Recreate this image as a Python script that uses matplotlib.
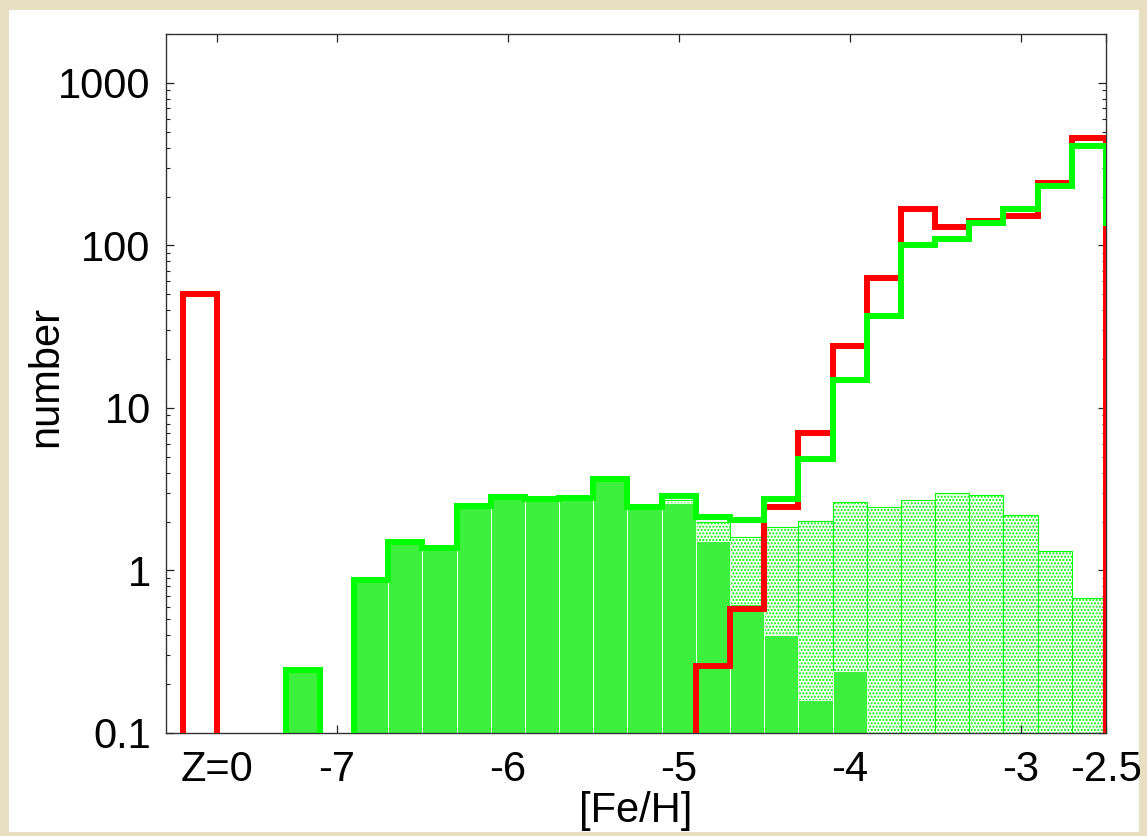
import numpy as np
import matplotlib
matplotlib.use("Agg")
import matplotlib.pyplot as plt
from matplotlib.patches import Rectangle
from matplotlib.ticker import FixedLocator, NullFormatter

plt.rcParams["font.family"] = ["Liberation Sans", "DejaVu Sans"]
plt.rcParams["hatch.linewidth"] = 1.0

BIN = 0.2  # [Fe/H] bin width

# Z = 0 (metal-free) stars, plotted in their own bin left of the axis break
zero_start = -7.9
zero_count = [50]

# red: all stars, bins starting at [Fe/H] = -4.9
red_start = -4.9
red_counts = [0.26, 0.58, 2.45, 7.0, 24.2, 63, 168, 129, 142, 152, 241, 457]

# green outline: bins starting at [Fe/H] = -7.3 (last bin lies past the axis end)
green_start = -7.3
green_counts = [0.245, 0, 0.87, 1.50, 1.38, 2.49, 2.82, 2.74, 2.78, 3.66,
                2.45, 2.89, 2.14, 2.05, 2.74, 4.84, 14.9, 37, 101, 110,
                137, 167, 232, 411, 137]

# dark shaded bars, bins starting at -7.3
dark_start = -7.3
dark_counts = [0.245, 0, 0.87, 1.50, 1.38, 2.49, 2.82, 2.74, 2.78, 3.66,
               2.45, 2.60, 1.52, 0.62, 0.40, 0.16, 0.24]

# light shaded bars, bins starting at -5.1
light_start = -5.1
light_counts = [2.72, 1.98, 1.61, 1.86, 2.02, 2.65, 2.47, 2.71, 2.99, 2.92,
                2.20, 1.32, 0.68]

xtick_values = [-7.7, -7, -6, -5, -4, -3, -2.5]
xtick_labels = ["Z=0", "-7", "-6", "-5", "-4", "-3", "-2.5"]
ytick_values = [0.1, 1, 10, 100, 1000]
ytick_labels = ["0.1", "1", "10", "100", "1000"]

RED = "#ff0000"
GREEN = "#00ff00"
DARK_FILL = "#3ef03e"
Y_MIN, Y_MAX = 0.1, 2000


def edges_from(start, counts):
    return start + BIN * np.arange(len(counts) + 1)


def filled_bins(ax, start, counts, **kw):
    """Draw each non-empty bin as a rectangle from the axis floor up."""
    counts = np.asarray(counts, dtype=float)
    left = edges_from(start, counts)[:-1]
    keep = counts > 0
    return ax.bar(left[keep], counts[keep] - Y_MIN, bottom=Y_MIN,
                  width=BIN, align="edge", **kw)


def outline(ax, start, counts, **kw):
    """Histogram outline; empty bins break it and drop to the axis floor."""
    counts = np.asarray(counts, dtype=float)
    shown = np.where(counts > 0, counts, np.nan)
    return ax.stairs(shown, edges_from(start, counts), baseline=Y_MIN,
                     fill=False, joinstyle="miter", capstyle="projecting",
                     **kw)


W, H = 1147, 836
fig = plt.figure(figsize=(W / 100, H / 100), dpi=100)
fig.patch.set_facecolor("#e8dfc2")
fig.add_artist(Rectangle((9 / W, (H - 832) / H), (1139 - 9) / W, (832 - 10) / H,
                         transform=fig.transFigure, facecolor="white",
                         edgecolor="none", zorder=-5))

ax = fig.add_axes([166 / W, (H - 733) / H, (1106 - 166) / W, (733 - 34) / H])
ax.set_facecolor("white")
ax.set_yscale("log")

# shaded histograms
filled_bins(ax, light_start, light_counts, facecolor="white",
            edgecolor=GREEN, linewidth=0.8, hatch=".....", zorder=1)
filled_bins(ax, dark_start, dark_counts, facecolor=DARK_FILL,
            edgecolor="white", linewidth=0.6, zorder=2)

# step outlines
lw = 4.3
outline(ax, zero_start, zero_count, edgecolor=RED, linewidth=lw, zorder=3)
outline(ax, red_start, red_counts, edgecolor=RED, linewidth=lw, zorder=3)
outline(ax, green_start, green_counts, edgecolor=GREEN, linewidth=lw, zorder=4)

ax.set_xlim(-8, -2.5)
ax.set_ylim(Y_MIN, Y_MAX)

ax.xaxis.set_major_locator(FixedLocator(xtick_values))
ax.set_xticklabels(xtick_labels)
ax.xaxis.set_minor_locator(FixedLocator([]))
ax.yaxis.set_major_locator(FixedLocator(ytick_values))
ax.set_yticklabels(ytick_labels)
ax.yaxis.set_minor_formatter(NullFormatter())

ax.tick_params(axis="both", which="both", direction="in", top=True,
               right=True, colors="#222222", labelcolor="black")
ax.tick_params(axis="both", which="major", length=5.5, width=0.9,
               labelsize=30)
ax.tick_params(axis="both", which="minor", length=2.8, width=0.8)
ax.tick_params(axis="x", which="major", pad=12)
ax.tick_params(axis="y", which="major", pad=11)
for s in ax.spines.values():
    s.set_linewidth(1.0)
    s.set_color("#333333")

ax.set_xlabel("[Fe/H]", fontsize=30)
ax.xaxis.label.set_va("baseline")
ax.xaxis.set_label_coords(0.5, -0.128)
ax.set_ylabel("number", fontsize=30)
ax.yaxis.label.set_va("center")
ax.yaxis.set_label_coords(-0.127, 0.51)

fig.savefig("out.png", dpi=100, facecolor=fig.get_facecolor())
